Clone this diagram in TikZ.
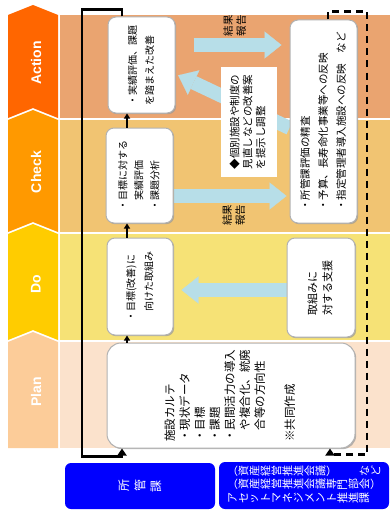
\documentclass[tikz,border=0pt]{standalone}
\usepackage{fontspec}
\setmainfont{Liberation Sans}
\newfontfamily\jp{Noto Sans CJK JP}
\usepackage{graphicx}
\usepackage{tikz}
\usetikzlibrary{arrows.meta, backgrounds, shadows}
\definecolor{actphase}{RGB}{255,102,0}
\definecolor{chkphase}{RGB}{255,153,0}
\definecolor{dophase}{RGB}{255,204,0}
\definecolor{planphase}{RGB}{252,204,153}
\definecolor{actband}{RGB}{234,164,112}
\definecolor{chkband}{RGB}{241,196,114}
\definecolor{doband}{RGB}{246,226,118}
\definecolor{planband}{RGB}{251,226,204}
\definecolor{flowblue}{RGB}{183,222,232}
\definecolor{deptblue}{RGB}{0,0,255}

\newcommand\vtext[1]{\rotatebox{90}{\begin{tabular}{@{}l@{}}#1\end{tabular}}}
\makeatletter
\newcommand\rotrow[2][1em]{\@tfor\rch:=#2\do{\makebox[#1]{\rotatebox[origin=c]{90}{\rch}}}}
\makeatother

\begin{document}
\begin{tikzpicture}[
    x=1pt, y=-1pt,
    phase/.style={font=\bfseries\fontsize{14}{14}\selectfont, text=white, rotate=90, inner sep=0pt},
    pbox/.style={draw=gray!60, line width=1pt, fill=white, rounded corners=8pt, inner sep=0pt,
        drop shadow={shadow xshift=1.2pt, shadow yshift=-1.2pt, fill=gray!80, opacity=0.7}},
    callout/.style={fill=white, inner sep=0pt},
    deptbox/.style={fill=deptblue, rounded corners=6pt, text=white, inner sep=0pt},
    tag/.style={inner sep=0pt, font=\jp\fontsize{10.5}{13}\selectfont},
    flow/.style={draw=flowblue, line width=14pt, -{Triangle[length=17pt, width=27pt, line width=0.1pt]}},
    stepline/.style={draw=black, line width=1.5pt, -{Triangle[length=5pt, width=6pt]}},
    loopline/.style={draw=black, line width=2.4pt, -{Triangle[length=7pt, width=9pt]}},
    dashloop/.style={loopline, dash pattern=on 7pt off 5pt}
]

\useasboundingbox (0,0) rectangle (390,511);

% Bands
\begin{scope}[on background layer]
\fill[white] (0,0) rectangle (390,511);
\fill[actband] (60,15) rectangle (390,118);
\fill[chkband] (60,120) rectangle (390,232);
\fill[doband] (60,234) rectangle (390,340);
\fill[planband] (60,342) rectangle (390,448);
\end{scope}

% PDCA chevrons
\fill[actphase] (8,15) -- (33,5) -- (58,15) -- (58,118) -- (33,108) -- (8,118) -- cycle;
\fill[chkphase] (8,120) -- (33,110) -- (58,120) -- (58,232) -- (33,222) -- (8,232) -- cycle;
\fill[dophase] (8,234) -- (33,224) -- (58,234) -- (58,340) -- (33,330) -- (8,340) -- cycle;
\fill[planphase] (8,342) -- (33,332) -- (58,342) -- (58,448) -- (8,448) -- cycle;
\node[phase] (act-l) at (36,63) {Action};
\node[phase] (chk-l) at (36,172) {Check};
\node[phase] (do-l) at (36,284) {Do};
\node[phase] (plan-l) at (36,392) {Plan};

% Boxes
\node[pbox, minimum width=67pt, minimum height=96pt, font=\jp\fontsize{10}{17}\selectfont] (act-box) at (141.5,65) {\vtext{・実績評価、課題\\を踏まえた改善}};
\node[pbox, minimum width=67pt, minimum height=95pt, font=\jp\fontsize{10}{16}\selectfont] (chk-box) at (139.5,175.5) {\vtext{・目標に対する\\　実績評価\\・課題分析}};
\node[pbox, minimum width=66pt, minimum height=97pt, font=\jp\fontsize{10}{18}\selectfont] (do-box) at (140,286.5) {\vtext{・目標(改善)に\\　向けた取組み}};
\node[pbox, rounded corners=14pt, minimum width=248pt, minimum height=105pt, font=\jp\fontsize{11.5}{15}\selectfont] (plan-box) at (231,395.5) {\vtext{施設カルテ\\・現状データ\\・目標\\・課題\\・民間活力の導入\\　や複合化、統廃\\　合等の方向性\\[15pt]※共同作成}};
\node[pbox, minimum width=68pt, minimum height=99pt, font=\jp\fontsize{11}{15}\selectfont] (sup-box) at (321,287.5) {\vtext{取組みに\\対する支援}};
\node[pbox, minimum width=67pt, minimum height=203pt, font=\jp\fontsize{10.5}{18}\selectfont] (rev-box) at (323.5,121.5) {\vtext{・所管課評価の精査\\・予算、長寿命化事業等への反映\\・指定管理者導入施設への反映　など}};

% Proposal note
\node[callout, minimum width=56pt, minimum height=110pt, font=\jp\fontsize{10.5}{13}\selectfont] (prop) at (249,122) {\vtext{◆個別施設や制度の\\見直しなどの改善案\\を提示し調整}};

% Report labels
\node[tag] (rep-top) at (236,26) {\vtext{結果\\報告}};
\node[tag] (rep-mid) at (235,215) {\vtext{結果\\報告}};

% Departments
\node[deptbox, minimum width=150pt, minimum height=46pt, font=\jp\fontsize{12}{14}\selectfont] (dept) at (140,486) {\rotrow[16pt]{所管課}};
\node[deptbox, minimum width=170pt, minimum height=47pt, font=\jp\fontsize{11}{12.5}\selectfont] (am) at (304,485.5) {\begin{tabular}{@{}l@{}}（\rotrow{資産経営推進会議}）\hfill\rotrow{など}\\（\rotrow{資産経営推進会議専門部会}）\\\rotrow{アセットマネジメント推進課}\end{tabular}};

% Flow arrows
\begin{scope}[on background layer]
\draw[flow, shorten <=18pt, shorten >=8pt] ([yshift=20pt]act-box.east) -- ([yshift=20pt]act-box.east -| rev-box.west);
\draw[flow, shorten >=3pt] ([yshift=-20.5pt]chk-box.east) -- ([yshift=-20.5pt]chk-box.east -| rev-box.west);
\draw[flow, shorten >=8pt] ([yshift=-2.5pt]sup-box.west) -- ([yshift=-2.5pt]sup-box.west -| do-box.east);
\draw[flow, shorten >=3pt] ([yshift=-6.5pt]rev-box.west) -- ([yshift=-9pt]act-box.east);
\end{scope}

% Cycle steps
\draw[stepline] ([xshift=-13pt]do-box.south |- plan-box.north) -- ([xshift=-13pt]do-box.south);
\draw[stepline] ([xshift=-13pt]do-box.north) -- ([xshift=-13pt]do-box.north |- chk-box.south);
\draw[stepline] ([xshift=-13pt]do-box.north |- chk-box.north) -- ([xshift=-13pt]do-box.north |- act-box.south);

% Feedback loops
\draw[loopline] ([xshift=-19.5pt]act-box.north) -- ++(0,-7) -- ++(-40,0) -- ++(0,447) -- ++(40,0) -- ([xshift=-109pt]plan-box.south);
\draw[dashloop] ([xshift=4.5pt]rev-box.north) -- ++(0,-8) -- ++(39,0) -- ++(0,443) -- ++(-37,0) -- ([xshift=99pt]plan-box.south);

\end{tikzpicture}
\end{document}
